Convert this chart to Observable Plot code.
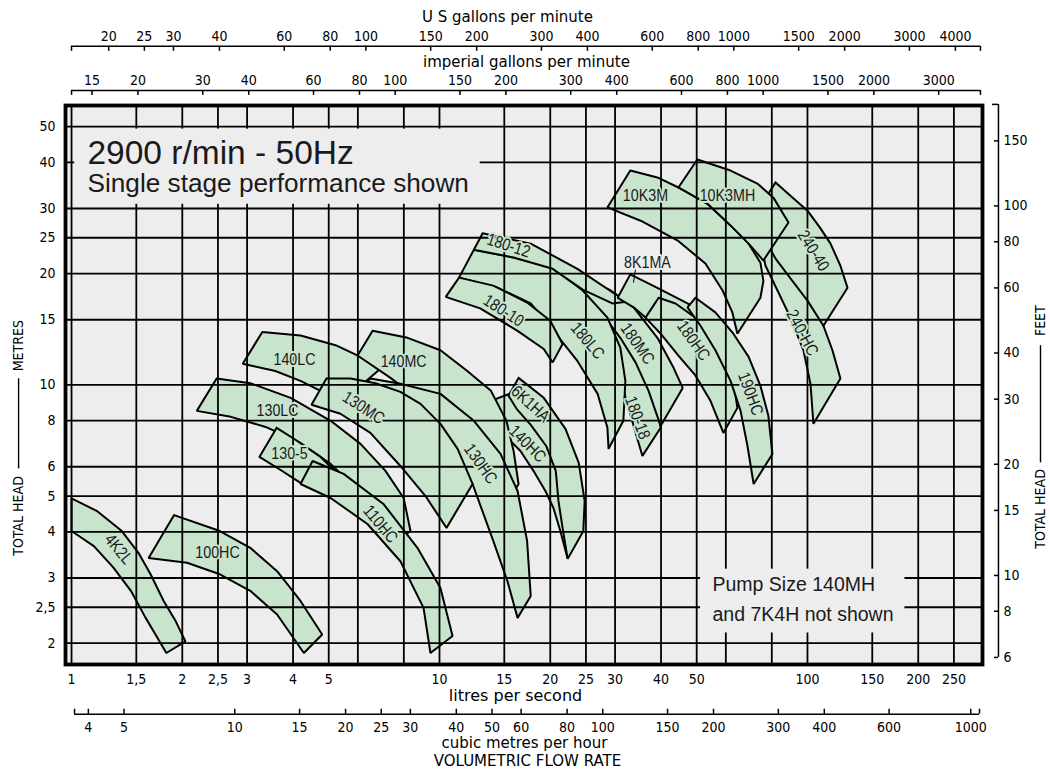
<!DOCTYPE html>
<html><head><meta charset="utf-8">
<script src="https://cdn.jsdelivr.net/npm/d3@7"></script>
<script src="https://cdn.jsdelivr.net/npm/@observablehq/plot@0.6"></script>
<style>body{margin:0;background:#fff}</style>
</head><body><div id="chart"></div>
<script>
// ---------- tick values ----------
const litresTicks = [1,1.5,2,2.5,3,4,5,6,8,10,15,20,25,30,40,50,60,80,100,150,200,250];
const metreTicks  = [2,2.5,3,4,5,6,8,10,15,20,25,30,40,50];
const usGpmTicks  = [20,25,30,40,60,80,100,150,200,300,400,600,800,1000,1500,2000,3000,4000];
const impGpmTicks = [15,20,30,40,60,80,100,150,200,300,400,600,800,1000,1500,2000,3000];
const m3hTicks    = [4,5,10,15,20,25,30,40,50,60,80,100,150,200,300,400,600,1000];
const feetTicks   = [6,8,10,15,20,30,40,60,80,100,150];
const US_GPM = 15.850, IMP_GPM = 13.198, M3H = 3.6, FT = 0.3048;

// ---------- pump regions: [litres per second, metres] ----------
const r4K2L  = [[1.0,4.93],[1.17,4.56],[1.37,4.02],[1.52,3.51],[1.64,3.07],[1.78,2.60],[1.92,2.29],[2.04,2.02],[1.81,1.88],[1.71,2.07],[1.59,2.34],[1.45,2.77],[1.30,3.20],[1.15,3.66],[1.0,4.02]];
const r100HC = [[1.90,4.44],[2.53,4.02],[3.06,3.62],[3.62,3.13],[4.19,2.60],[4.80,2.11],[4.28,1.88],[3.62,2.39],[3.06,2.77],[2.53,3.07],[2.06,3.30],[1.62,3.40]];
const r140LC = [[3.30,13.9],[4.19,13.6],[5.22,12.8],[6.10,11.9],[6.91,11.05],[5.55,9.17],[4.75,9.63],[4.19,10.25],[3.58,10.9],[2.92,11.4]];
const r130LC = [[2.48,10.4],[3.06,10.1],[3.94,9.22],[5.06,7.99],[6.10,6.92],[7.13,5.85],[7.99,4.94],[8.34,4.02],[7.59,3.78],[6.83,4.42],[5.91,5.26],[5.06,6.11],[4.19,6.96],[3.37,7.69],[2.71,8.19],[2.19,8.50]];
const r130_5 = [[3.61,7.65],[4.06,7.10],[4.75,6.38],[5.55,5.49],[4.81,5.16],[4.19,5.43],[3.70,5.88],[3.24,6.38]];
const r140HC = [[16.8,9.75],[18.8,8.77],[20.3,7.51],[21.05,6.22],[21.45,5.00],[21.9,4.15],[22.3,3.38],[21.3,4.02],[20.4,4.64],[19.4,5.16],[18.0,5.85],[16.6,6.62],[15.3,7.18],[14.4,8.40],[13.8,9.05]];
const r140MC = [[6.58,14.0],[8.19,13.4],[10.06,12.4],[11.9,10.9],[13.8,9.63],[15.2,7.99],[15.9,6.62],[16.4,5.39],[15.1,4.70],[13.3,5.56],[11.8,6.62],[10.4,7.74],[8.88,9.05],[7.36,10.44],[5.99,12.0]];
const r130HC = [[6.49,10.4],[7.83,10.06],[10.06,9.45],[12.4,7.99],[14.65,6.50],[16.3,5.16],[17.3,3.78],[17.7,2.68],[16.3,2.34],[15.3,2.94],[14.0,3.78],[12.3,5.39],[10.4,6.62],[8.61,7.89],[7.13,8.94],[5.91,9.51]];
const r130MC = [[4.93,10.4],[5.73,10.4],[6.70,10.1],[7.83,9.57],[8.88,8.88],[10.06,7.84],[11.2,6.71],[12.3,5.39],[10.45,4.10],[9.16,5.00],[7.83,6.03],[6.49,7.41],[5.38,8.35],[4.49,8.83]];
const r6K1HA = [[16.4,10.44],[19.2,9.22],[22.0,7.60],[23.9,6.15],[24.8,4.85],[24.6,4.02],[22.3,3.38],[21.6,4.10],[21.05,4.85],[20.7,5.85],[19.5,6.83],[17.7,7.79],[16.2,8.61],[15.4,9.34]];
const r110HC = [[4.52,6.22],[5.49,5.74],[7.04,4.76],[8.71,3.62],[10.06,2.82],[10.85,2.09],[9.45,1.88],[9.05,2.49],[7.83,3.33],[6.37,4.20],[5.06,4.94],[4.19,5.39]];
const r180_18 = [[29.5,15.1],[32.6,13.2],[36.3,10.8],[38.6,9.17],[39.9,7.65],[35.6,6.42],[33.7,7.74],[32.2,9.05],[30.5,11.26],[28.3,13.2],[27.0,14.45]];
const r180MC = [[22.0,21.0],[25.7,19.1],[29.2,18.0],[33.7,16.2],[39.1,13.4],[43.3,11.1],[45.8,9.81],[39.9,7.74],[37.0,9.63],[34.1,11.5],[31.0,13.4],[27.9,15.4],[24.9,17.1],[21.3,18.6]];
const r180LC = [[20.3,20.75],[24.5,18.0],[28.6,15.2],[31.0,12.6],[32.0,10.25],[31.6,7.99],[28.8,6.71],[28.6,7.65],[26.9,9.45],[23.7,11.6],[20.4,14.0],[17.7,16.6],[14.4,18.3],[11.3,19.5],[12.4,23.2],[15.9,22.1]];
const r180_12 = [[13.1,25.7],[17.7,24.1],[23.7,20.6],[29.5,17.8],[32.6,16.8],[29.5,16.6],[24.5,18.1],[20.3,20.6],[15.9,22.1],[12.4,23.2]];
const r180_10 = [[11.3,19.5],[14.0,18.55],[17.3,16.7],[20.0,14.9],[21.6,12.9],[20.3,11.5],[19.2,12.5],[16.3,14.0],[12.9,16.1],[10.4,17.3]];
const r8K1MA = [[33.0,19.9],[39.1,18.3],[47.2,16.6],[56.2,14.9],[48.1,14.45],[41.9,14.45],[36.3,15.2],[33.7,16.2],[30.5,17.2]];
const r180HC = [[39.4,17.2],[43.8,16.6],[49.6,15.2],[55.2,13.6],[59.9,11.8],[62.9,10.25],[64.5,8.66],[59.1,7.41],[54.5,9.05],[49.6,10.6],[44.6,12.0],[39.9,13.75],[36.3,15.2]];
const r190HC = [[49.6,17.2],[56.2,15.7],[62.9,13.75],[69.2,11.9],[74.5,9.94],[78.3,8.24],[80.3,6.50],[71.4,5.39],[68.7,6.83],[65.8,8.50],[61.8,10.25],[56.2,12.4],[51.2,14.45],[47.2,16.2]];
const r10K3M = [[33.0,38.0],[39.1,36.4],[44.6,34.2],[53.5,30.9],[61.8,27.0],[69.2,24.1],[74.5,21.4],[75.9,19.1],[74.5,17.2],[64.5,13.75],[62.5,15.7],[58.8,18.0],[52.8,21.3],[44.3,24.6],[35.2,27.8],[28.6,30.2]];
const r240HC = [[87.1,28.7],[98.8,24.6],[105.1,20.4],[108.5,16.9],[110.5,14.45],[116.9,12.4],[122.9,10.4],[103.8,7.84],[101.9,10.06],[97.5,12.4],[89.9,15.2],[82.9,18.0],[76.9,21.0],[74.5,24.3]];
const r240_40 = [[81.9,35.3],[89.9,32.5],[100,29.6],[108.5,26.5],[115.5,24.1],[122.9,21.0],[128.5,18.3],[110.5,14.45],[100,16.9],[89.9,19.4],[81.9,21.95],[76.9,24.6],[74.5,28.7],[78.3,32.9]];
const r10K3MH = [[50.2,40.7],[61.8,38.0],[73.1,35.05],[80.8,32.1],[88.8,27.5],[75.9,21.7],[69.2,24.1],[61.8,27.0],[53.5,30.9],[44.6,34.2]];

// drawing order (later ones lie on top)
const regions = [
  ["4K2L", r4K2L], ["100HC", r100HC], ["140LC", r140LC], ["130LC", r130LC], ["130-5", r130_5],
  ["140HC", r140HC], ["140MC", r140MC], ["130HC", r130HC], ["130MC", r130MC], ["6K1HA", r6K1HA],
  ["110HC", r110HC], ["180-18", r180_18], ["180MC", r180MC], ["180LC", r180LC], ["180-12", r180_12],
  ["180-10", r180_10], ["8K1MA", r8K1MA], ["180HC", r180HC], ["190HC", r190HC], ["10K3M", r10K3M],
  ["240-HC", r240HC], ["240-40", r240_40], ["10K3MH", r10K3MH]
];

// ---------- region labels ----------
const labelNames = ["4K2L","100HC","130-5","140LC","130LC","140MC","130MC","110HC","130HC","140HC","6K1HA","180-12","180-10","180LC","180MC","180-18","180HC","190HC","10K3M","10K3MH","240-40","240-HC"];
const labelX     = [1.342,2.493,3.913,4.036,3.63,7.99,6.22,6.91,12.93,17.34,17.67,15.40,14.93,25.25,34.51,34.51,49.0,70.0,36.29,60.6,103.8,96.9];
const labelY     = [3.594,3.505,6.50,11.69,8.50,11.54,8.66,4.20,6.11,6.92,8.88,23.81,15.87,13.16,12.92,8.14,13.16,9.45,32.52,32.52,23.07,13.83];
const labelAngle = [50,0,0,0,0,0,33,50,55,45,42,18,33,50,55,70,55,70,0,0,58,62];

const GREEN = "#c8e4cd", GREY = "#ededed";
const AXF = "'DejaVu Sans Condensed','DejaVu Sans',sans-serif";
const TTF = "'DejaVu Sans',sans-serif";
const SANS = "'Liberation Sans',Arial,sans-serif";
const fmt = d => String(d).replace(".", ",");

const table = regions.flatMap(([name, pts]) => [...pts, pts[0]].map(([x, y]) => ({name, x, y})));
const li = d3.range(labelNames.length);

// layout anchors expressed in data units (outside the frame)
const yUS = 82.4, yUStick = 79.9, yUSlab = 85.0, yUStitle = 95.7;
const yIMP = 62.6, yIMPtick = 60.7, yIMPlab = 64.6, yIMPtitle = 72.3;
const yM3 = 1.284, yM3tick = 1.324, yM3lab = 1.147, yM3title = 1.038, yVolTitle = 0.928;
const topX1 = 1.0, topX2 = 295.2, botX1 = 1.019, botX2 = 293.4;
const xFtLine = 330.4, xFtTick = 322.3, xFtLab = 341, xFtStub = 318.2, yFtTop = 57.4;
const xLeftTitle = 0.718, xRightTitle = 429.8;

const chart = Plot.plot({
  width: 1050, height: 771,
  marginLeft: 65, marginRight: 68, marginTop: 105, marginBottom: 107,
  x: {type: "log", domain: [0.963, 299], axis: null},
  y: {type: "log", domain: [1.75, 57], axis: null},
  style: {fontFamily: AXF, fontSize: "14px", background: "white", color: "black"},
  marks: [
    Plot.frame({fill: GREY, stroke: "none"}),
    Plot.line(table, {x: "x", y: "y", z: "name", fill: GREEN, stroke: "black", strokeWidth: 2, strokeLinejoin: "miter"}),
    Plot.ruleX(litresTicks, {stroke: "black", strokeWidth: 1.8}),
    Plot.ruleY(metreTicks, {stroke: "black", strokeWidth: 1.8}),
    // title box and note box hide the grid
    Plot.rect([0], {x1: 1.02, x2: 12.9, y1: 30.8, y2: 49.2, fill: GREY}),
    Plot.rect([0], {x1: 51.2, x2: 184, y1: 2.13, y2: 3.17, fill: GREY}),
    Plot.frame({stroke: "black", strokeWidth: 3.8}),
    // region labels
    Plot.text(li, {x: i => labelX[i], y: i => labelY[i], text: i => labelNames[i], rotate: i => labelAngle[i],
      fontFamily: SANS, fontSize: 17, fill: "#1a1a1a", stroke: GREEN, strokeWidth: 4}),
    Plot.text(["8K1MA"], {x: 36.74, y: 21.41, text: d => d, rotate: () => 0, fontFamily: SANS, fontSize: 17, fill: "#1a1a1a", stroke: GREY, strokeWidth: 4}),
    Plot.link([0], {x1: 34.09, y1: 20.5, x2: 33.66, y2: 18.9, stroke: "black", strokeWidth: 1}),
    // title
    Plot.text(["2900 r/min - 50Hz"], {x: 1.105, y: 39.7, text: d => d, textAnchor: "start", lineAnchor: "bottom", fontFamily: SANS, fontSize: 33.5, fill: "#1a1a1a"}),
    Plot.text(["Single stage performance shown"], {x: 1.105, y: 33.3, text: d => d, textAnchor: "start", lineAnchor: "bottom", fontFamily: SANS, fontSize: 26.2, fill: "#1a1a1a"}),
    // note
    Plot.text(["Pump Size 140MH", "and 7K4H not shown"], {x: 55.2, y: (d, i) => [2.765, 2.293][i], text: d => d, textAnchor: "start", lineAnchor: "bottom", fontFamily: SANS, fontSize: 19.5, fill: "#1a1a1a"}),
    // bottom litres axis + left metres axis
    Plot.axisX(litresTicks, {anchor: "bottom", tickSize: 0, tickPadding: 10, tickFormat: fmt, label: null, fontSize: 14}),
    Plot.axisY(metreTicks, {anchor: "left", tickSize: 0, tickPadding: 10, tickFormat: fmt, label: null, fontSize: 14}),
    Plot.text(["litres per second"], {x: 16.09, y: 1.392, text: d => d, lineAnchor: "bottom", fontFamily: TTF, fontSize: 16}),
    // US gallons axis
    Plot.ruleY([yUS], {x1: topX1, x2: topX2, stroke: "black", strokeWidth: 1.5}),
    Plot.ruleX([...usGpmTicks.map(v => v / US_GPM), topX1, topX2], {y1: yUS, y2: yUStick, stroke: "black", strokeWidth: 1.5}),
    Plot.text(usGpmTicks, {x: v => v / US_GPM, y: yUSlab, text: d => String(d), lineAnchor: "bottom", fontSize: 14}),
    Plot.text(["U S gallons per minute"], {x: 15.3, y: yUStitle, text: d => d, lineAnchor: "bottom", fontFamily: TTF, fontSize: 15}),
    // imperial gallons axis
    Plot.ruleY([yIMP], {x1: topX1, x2: topX2, stroke: "black", strokeWidth: 1.5}),
    Plot.ruleX([...impGpmTicks.map(v => v / IMP_GPM), topX1, topX2], {y1: yIMP, y2: yIMPtick, stroke: "black", strokeWidth: 1.5}),
    Plot.text(impGpmTicks, {x: v => v / IMP_GPM, y: yIMPlab, text: d => String(d), lineAnchor: "bottom", fontSize: 14}),
    Plot.text(["imperial gallons per minute"], {x: 17.23, y: yIMPtitle, text: d => d, lineAnchor: "bottom", fontFamily: TTF, fontSize: 15}),
    // cubic metres per hour axis
    Plot.ruleY([yM3], {x1: botX1, x2: botX2, stroke: "black", strokeWidth: 1.5}),
    Plot.ruleX([...m3hTicks.map(v => v / M3H), botX1, botX2], {y1: yM3, y2: yM3tick, stroke: "black", strokeWidth: 1.5}),
    Plot.text(m3hTicks, {x: v => v / M3H, y: yM3lab, text: d => String(d), lineAnchor: "bottom", fontSize: 14}),
    Plot.text(["cubic metres per hour"], {x: 17.02, y: yM3title, text: d => d, lineAnchor: "bottom", fontFamily: TTF, fontSize: 15}),
    Plot.text(["VOLUMETRIC FLOW RATE"], {x: 17.34, y: yVolTitle, text: d => d, lineAnchor: "bottom", fontFamily: TTF, fontSize: 15}),
    // feet axis on the right
    Plot.ruleX([xFtLine], {y1: feetTicks[0] * FT, y2: yFtTop, stroke: "black", strokeWidth: 1.5}),
    Plot.ruleY([yFtTop], {x1: xFtStub, x2: xFtLine, stroke: "black", strokeWidth: 1.5}),
    Plot.ruleY(feetTicks.map(f => f * FT), {x1: xFtTick, x2: xFtLine, stroke: "black", strokeWidth: 1.5}),
    Plot.text(feetTicks, {x: xFtLab, y: f => f * FT, text: d => String(d), textAnchor: "start", fontSize: 14}),
    // vertical axis titles: words plus a long dash
    Plot.text(["TOTAL HEAD", "METRES"], {x: xLeftTitle, y: (d, i) => [4.416, 12.76][i], text: d => d, rotate: -90, fontSize: 14}),
    Plot.ruleX([xLeftTitle], {y1: 5.92, y2: 10.38, stroke: "black", strokeWidth: 1.4}),
    Plot.text(["TOTAL HEAD", "FEET"], {x: xRightTitle, y: (d, i) => [4.613, 14.91][i], text: d => d, rotate: -90, fontSize: 14}),
    Plot.ruleX([xRightTitle], {y1: 6.15, y2: 12.76, stroke: "black", strokeWidth: 1.4})
  ]
});
// narrow the pump labels along their baseline (condensed lettering as in the original)
const pumpNames = new Set([...labelNames, "8K1MA"]);
chart.querySelectorAll("text").forEach(t => {
  if (!pumpNames.has(t.textContent)) return;
  let tr = t.getAttribute("transform");
  if (!tr) {
    tr = `translate(${t.getAttribute("x") || 0},${t.getAttribute("y") || 0})`;
    t.removeAttribute("x"); t.removeAttribute("y");
  }
  t.setAttribute("transform", tr + " scale(0.84,1)");
});
document.getElementById("chart").appendChild(chart);
</script>
</body></html>
